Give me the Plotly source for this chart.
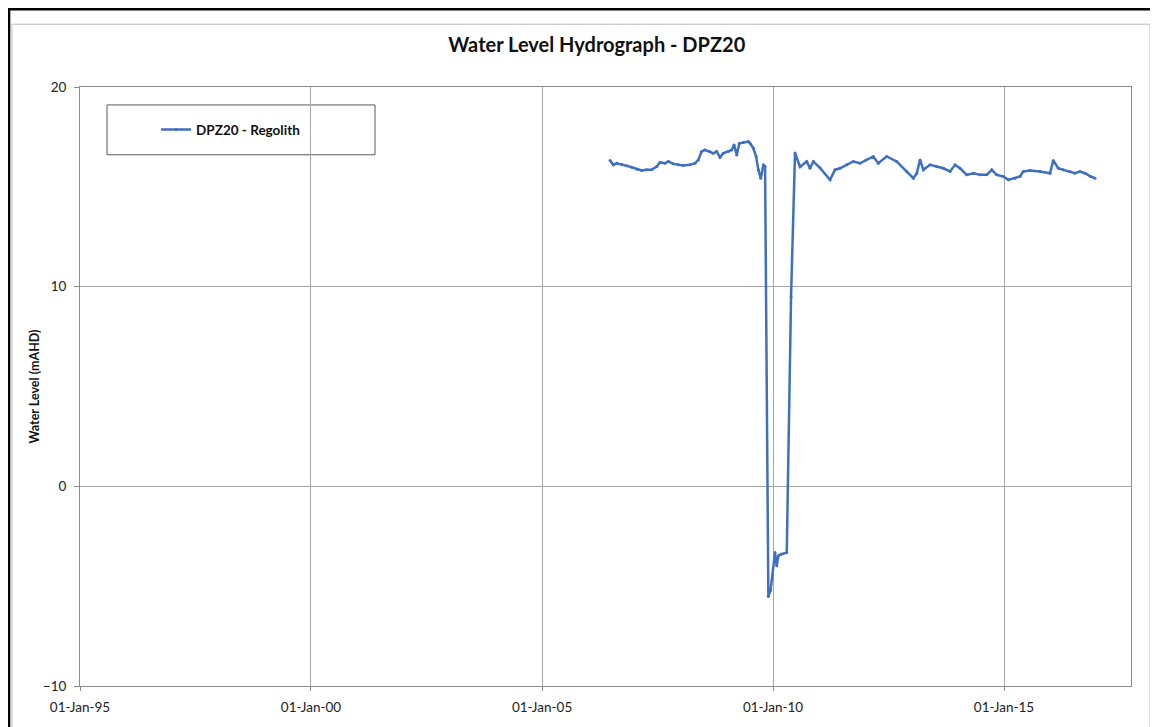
import datetime as dt
import plotly.graph_objects as go

# Decimal-year sample times
years = [
    2006.472, 2006.543, 2006.617, 2006.725, 2006.833, 2006.942, 2007.050, 2007.158,
    2007.266, 2007.374, 2007.483, 2007.554, 2007.662, 2007.734, 2007.842, 2007.950,
    2008.058, 2008.203, 2008.312, 2008.383, 2008.457, 2008.528, 2008.636, 2008.708,
    2008.781, 2008.853, 2008.924, 2009.032, 2009.106, 2009.156, 2009.214, 2009.271,
    2009.357, 2009.465, 2009.502, 2009.574, 2009.632, 2009.682, 2009.734, 2009.790,
    2009.827, 2009.898, 2009.946, 2010.043, 2010.080, 2010.115, 2010.173, 2010.297,
    2010.390, 2010.476, 2010.584, 2010.729, 2010.801, 2010.872, 2011.017, 2011.234,
    2011.342, 2011.450, 2011.595, 2011.738, 2011.883, 2012.013, 2012.171, 2012.279,
    2012.461, 2012.677, 2012.894, 2013.037, 2013.110, 2013.182, 2013.253, 2013.398,
    2013.543, 2013.686, 2013.831, 2013.939, 2014.048, 2014.193, 2014.336, 2014.481,
    2014.626, 2014.734, 2014.842, 2014.985, 2015.093, 2015.238, 2015.346, 2015.418,
    2015.563, 2015.779, 2015.996, 2016.067, 2016.175, 2016.284, 2016.429, 2016.537,
    2016.645, 2016.753, 2016.870, 2016.970,
]

# Water level (mAHD)
levels = [
    16.32, 16.10, 16.18, 16.13, 16.05, 15.98, 15.88, 15.82,
    15.85, 15.85, 16.02, 16.22, 16.18, 16.27, 16.15, 16.10,
    16.07, 16.10, 16.18, 16.35, 16.77, 16.85, 16.77, 16.68,
    16.77, 16.48, 16.68, 16.77, 16.85, 17.10, 16.60, 17.18,
    17.22, 17.27, 17.18, 16.93, 16.52, 15.85, 15.43, 16.10,
    16.02, -5.52, -5.20, -3.32, -3.98, -3.48, -3.40, -3.32,
    9.50, 16.70, 16.00, 16.27, 15.93, 16.27, 15.95, 15.35,
    15.85, 15.93, 16.10, 16.27, 16.18, 16.35, 16.52, 16.18,
    16.52, 16.27, 15.77, 15.43, 15.68, 16.35, 15.85, 16.10,
    16.02, 15.93, 15.77, 16.10, 15.93, 15.60, 15.68, 15.60,
    15.60, 15.85, 15.60, 15.52, 15.35, 15.43, 15.52, 15.77,
    15.82, 15.77, 15.68, 16.32, 15.93, 15.85, 15.77, 15.68,
    15.77, 15.68, 15.52, 15.43,
]

x_ticks = ["1995-01-01", "2000-01-01", "2005-01-01", "2010-01-01", "2015-01-01"]
x_tick_labels = ["01-Jan-95", "01-Jan-00", "01-Jan-05", "01-Jan-10", "01-Jan-15"]
x_range = ["1995-01-01", "2017-10-01"]
y_ticks = [-10, 0, 10, 20]


def to_date(y):
    base = dt.datetime(int(y), 1, 1)
    return base + dt.timedelta(days=(y - int(y)) * 365.25)


dates = [to_date(v) for v in years]

FONT = "Lato, 'Open Sans', sans-serif"
BLUE = "#3F6FC0"

fig = go.Figure()
fig.add_trace(go.Scatter(
    x=dates, y=levels, mode="lines+markers", name="<b>DPZ20 - Regolith</b>",
    line=dict(color=BLUE, width=2.5),
    marker=dict(color=BLUE, size=3),
))

fig.update_layout(
    width=1150, height=719,
    margin=dict(l=72, r=27, t=79, b=39),
    paper_bgcolor="white", plot_bgcolor="white",
    font=dict(family=FONT, size=13.5, color="#222222"),
    title=dict(text="<b>Water Level Hydrograph - DPZ20</b>", x=0.512, xanchor="center",
               y=1 - 37 / 719, yanchor="middle", font=dict(size=20, color="#111111")),
    showlegend=True,
    legend=dict(x=0.0724, y=0.9285, xanchor="left", yanchor="middle",
                bgcolor="rgba(0,0,0,0)", borderwidth=0,
                font=dict(size=13.5, color="#111111"), itemwidth=30),
    xaxis=dict(
        type="date", range=x_range, tickvals=x_ticks, ticktext=x_tick_labels,
        showgrid=True, gridcolor="#A6A6A6", gridwidth=1,
        showline=True, linecolor="#8C8C8C", linewidth=1, mirror=True,
        ticks="outside", ticklen=4, tickcolor="#8C8C8C", ticklabelstandoff=5,
        tickfont=dict(size=13.5), zeroline=False,
    ),
    yaxis=dict(
        range=[-10, 20], tickvals=y_ticks,
        showgrid=True, gridcolor="#A6A6A6", gridwidth=1,
        showline=True, linecolor="#8C8C8C", linewidth=1, mirror=True,
        ticks="outside", ticklen=5, tickcolor="#8C8C8C", ticklabelstandoff=5,
        tickfont=dict(size=13.5), zeroline=False,
        title=dict(text="<b>Water Level (mAHD)</b>", font=dict(size=12.5, color="#111111"),
                   standoff=0),
    ),
    shapes=[
        # outer black frame
        dict(type="rect", xref="paper", yref="paper", x0=-0.0675, x1=1.0238,
             y0=-0.09, y1=1.1298, line=dict(color="black", width=2.5), layer="above"),
        # inner grey frame
        dict(type="rect", xref="paper", yref="paper", x0=-0.0647, x1=1.0181,
             y0=-0.07, y1=1.1048, line=dict(color="#BFBFBF", width=1), layer="above"),
        # legend box
        dict(type="rect", xref="paper", yref="paper", x0=0.0257, x1=0.2807,
             y0=(688 - 155) / 601, y1=(688 - 105) / 601,
             line=dict(color="#595959", width=1), fillcolor="white", layer="below"),
    ],
)

fig.write_html("out.html")
